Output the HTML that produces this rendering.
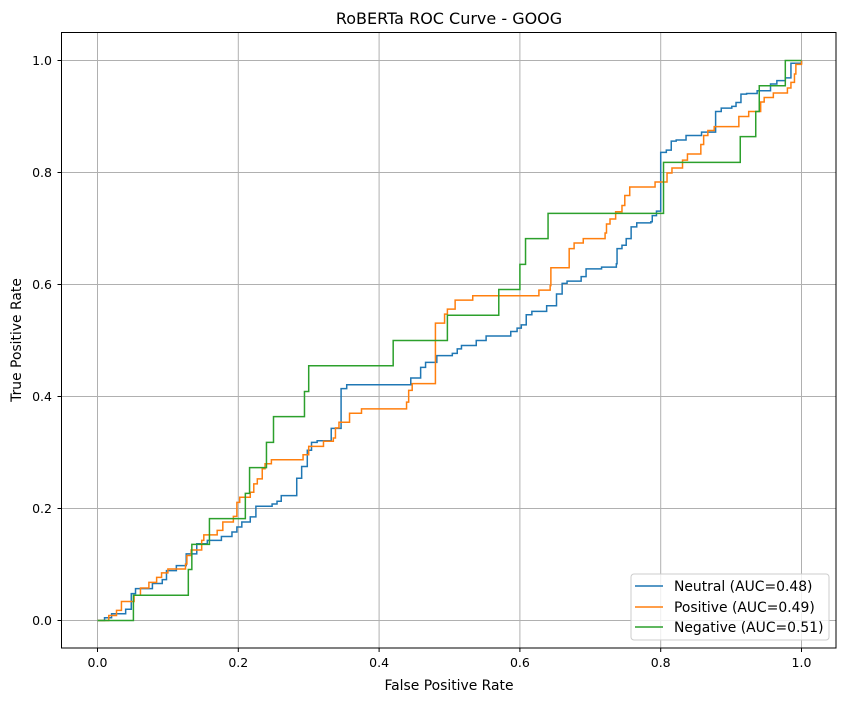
<!DOCTYPE html>
<html><head><meta charset="utf-8"><style>
body{margin:0;background:#fff;}
svg{display:block;font-family:"DejaVu Sans","Liberation Sans",sans-serif;}
</style></head><body>
<svg id="chart" width="846" height="701" viewBox="0 0 846 701">
<rect width="846" height="701" fill="#fff"/>
<text x="449" y="24" font-size="16" text-anchor="middle">RoBERTa ROC Curve - GOOG</text>
<g id="grid"></g>
<g id="series"></g>
<rect x="61.5" y="32.5" width="774.5" height="615.5" fill="none" stroke="#000" stroke-width="1"/>
<g id="ticks"></g>
<text x="449" y="690" font-size="13.9" text-anchor="middle">False Positive Rate</text>
<text transform="translate(21,340) rotate(-90)" font-size="13.9" text-anchor="middle">True Positive Rate</text>
<g>
<rect x="631" y="574" width="198" height="66" rx="3" fill="#fff" fill-opacity="0.8" stroke="#ccc"/>
<line x1="635" y1="586" x2="663" y2="586" stroke="#1f77b4" stroke-width="1.5"/>
<text x="674" y="591" font-size="13.9">Neutral (AUC=0.48)</text>
<line x1="635" y1="607" x2="663" y2="607" stroke="#ff7f0e" stroke-width="1.5"/>
<text x="674" y="612" font-size="13.9">Positive (AUC=0.49)</text>
<line x1="635" y1="627" x2="663" y2="627" stroke="#2ca02c" stroke-width="1.5"/>
<text x="674" y="632" font-size="13.9">Negative (AUC=0.51)</text>
</g>
</svg>
<script>
const xTicks=[0,0.2,0.4,0.6,0.8,1.0];
const yTicks=[0,0.2,0.4,0.6,0.8,1.0];
const neutralFpr=[0,0.01,0.02,0.04,0.048,0.054,0.078,0.092,0.098,0.112,0.126,0.141,0.156,0.176,0.191,0.198,0.205,0.217,0.225,0.248,0.255,0.261,0.283,0.29,0.298,0.304,0.312,0.332,0.346,0.354,0.445,0.459,0.466,0.482,0.504,0.511,0.517,0.538,0.552,0.587,0.596,0.602,0.609,0.617,0.638,0.652,0.66,0.667,0.687,0.694,0.716,0.737,0.738,0.745,0.751,0.758,0.766,0.786,0.788,0.794,0.8,0.8,0.808,0.815,0.822,0.836,0.858,0.878,0.886,0.901,0.907,0.914,0.922,0.937,0.956,0.965,0.977,0.985,1.0,1.0];
const neutralTpr=[0,0.005,0.012,0.02,0.048,0.057,0.066,0.073,0.089,0.098,0.119,0.137,0.143,0.15,0.158,0.167,0.176,0.185,0.204,0.208,0.213,0.223,0.254,0.275,0.304,0.318,0.321,0.343,0.414,0.421,0.433,0.452,0.461,0.473,0.477,0.485,0.491,0.5,0.508,0.516,0.522,0.528,0.546,0.552,0.562,0.583,0.602,0.606,0.614,0.628,0.631,0.637,0.664,0.67,0.682,0.703,0.71,0.712,0.723,0.731,0.733,0.836,0.84,0.856,0.858,0.866,0.872,0.909,0.915,0.918,0.925,0.94,0.941,0.946,0.958,0.964,0.969,0.995,0.997,1.0];
const positiveFpr=[0,0.016,0.027,0.034,0.052,0.061,0.073,0.084,0.091,0.1,0.125,0.127,0.133,0.148,0.151,0.17,0.178,0.193,0.198,0.202,0.217,0.222,0.227,0.234,0.238,0.247,0.292,0.3,0.321,0.335,0.338,0.343,0.358,0.375,0.439,0.442,0.447,0.48,0.48,0.493,0.497,0.508,0.533,0.627,0.643,0.644,0.67,0.677,0.69,0.721,0.723,0.728,0.736,0.745,0.749,0.756,0.792,0.809,0.816,0.831,0.838,0.857,0.861,0.867,0.876,0.911,0.925,0.942,0.947,0.96,0.98,0.985,0.99,0.992,1.0,1.0];
const positiveTpr=[0,0.009,0.018,0.034,0.045,0.058,0.068,0.077,0.085,0.092,0.101,0.116,0.126,0.143,0.153,0.161,0.176,0.186,0.211,0.22,0.229,0.244,0.253,0.271,0.28,0.287,0.296,0.311,0.32,0.326,0.344,0.354,0.37,0.378,0.39,0.411,0.423,0.429,0.531,0.547,0.556,0.572,0.58,0.59,0.598,0.63,0.664,0.674,0.682,0.692,0.708,0.717,0.73,0.741,0.759,0.774,0.783,0.799,0.808,0.822,0.833,0.85,0.866,0.875,0.882,0.9,0.909,0.926,0.934,0.942,0.951,0.961,0.976,0.993,0.997,1.0];
const negativeFpr=[0,0.051,0.129,0.134,0.159,0.21,0.216,0.24,0.25,0.294,0.3,0.42,0.497,0.57,0.6,0.608,0.64,0.804,0.913,0.935,0.94,0.977,1.0];
const negativeTpr=[0,0.045,0.091,0.136,0.182,0.227,0.273,0.318,0.364,0.409,0.455,0.5,0.545,0.591,0.636,0.682,0.727,0.818,0.864,0.909,0.955,1.0,1.0];

const NS='http://www.w3.org/2000/svg';
const sx=v=>97.5+v*704;
const sy=v=>620.5-v*560;
const grid=document.getElementById('grid');
const ticks=document.getElementById('ticks');
function mk(tag,attrs,parent){const e=document.createElementNS(NS,tag);for(const k in attrs)e.setAttribute(k,attrs[k]);parent.appendChild(e);return e;}
xTicks.forEach(t=>{
  const g=mk('line',{x1:sx(t),x2:sx(t),y1:32.5,y2:648,stroke:'#b0b0b0','stroke-width':1},grid);
  
  
  const tk=mk('line',{x1:sx(t),x2:sx(t),y1:648,y2:652,stroke:'#000'},ticks);
  
  
  const lb=mk('text',{x:sx(t),y:667,'font-size':12.5,'text-anchor':'middle'},ticks);
  lb.textContent=t.toFixed(1);
  
  
});
yTicks.forEach(t=>{
  const g=mk('line',{x1:61.5,x2:836,y1:sy(t),y2:sy(t),stroke:'#b0b0b0','stroke-width':1},grid);
  
  
  const tk=mk('line',{x1:57.5,x2:61.5,y1:sy(t),y2:sy(t),stroke:'#000'},ticks);
  
  
  const lb=mk('text',{x:52,y:sy(t)+4.5,'font-size':12.5,'text-anchor':'end'},ticks);
  lb.textContent=t.toFixed(1);
  
  
});
const series=document.getElementById('series');
function drawStep(xs,ys,color,name){
  let d='M'+sx(xs[0])+','+sy(ys[0]);
  for(let i=1;i<xs.length;i++){d+=' L'+sx(xs[i])+','+sy(ys[i-1])+' L'+sx(xs[i])+','+sy(ys[i]);}
  const p=mk('path',{d:d,fill:'none',stroke:color,'stroke-width':1.5},series);
  
  
}
drawStep(neutralFpr,neutralTpr,'#1f77b4','neutral-roc-line');
drawStep(positiveFpr,positiveTpr,'#ff7f0e','positive-roc-line');
drawStep(negativeFpr,negativeTpr,'#2ca02c','negative-roc-line');
</script>
</body></html>
